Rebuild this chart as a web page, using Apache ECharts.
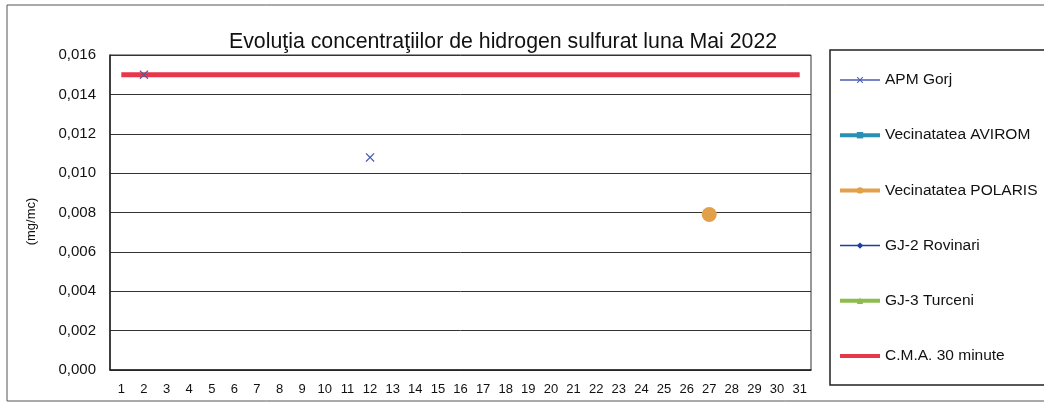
<!DOCTYPE html>
<html>
<head>
<meta charset="utf-8">
<script src="https://cdn.jsdelivr.net/npm/echarts@6/dist/echarts.min.js"></script>
<style>
  html, body { margin: 0; padding: 0; background: #fff; }
  #main { width: 1044px; height: 405px; }
</style>
</head>
<body>
<div id="main"></div>
<script>
// zilele lunii
const days = Array.from({ length: 31 }, (_, i) => String(i + 1));

// valori (mg/mc), null = lipsa masuratori
const apmGorj = days.map(() => null);
apmGorj[1] = 0.015;
apmGorj[11] = 0.0108;

const avirom = days.map(() => null);

const polaris = days.map(() => null);
polaris[26] = 0.0079;

const gj2Rovinari = days.map(() => null);
const gj3Turceni = days.map(() => null);

const cmaLimit = days.map(() => 0.015);

const chartDom = document.getElementById('main');
const myChart = echarts.init(chartDom, null, { renderer: 'canvas' });

const font = 'Liberation Sans, Arial, sans-serif';
const xMark = 'path://M0,1L1,0L5,4L9,0L10,1L6,5L10,9L9,10L5,6L1,10L0,9L4,5Z';

const colors = {
  apm: '#4a5cb0',
  avirom: '#2a8fb5',
  polaris: '#e3a04a',
  gj2: '#1f3ea0',
  gj3: '#8cbc4c',
  cma: '#e8364a'
};

const option = {
  animation: false,
  textStyle: { fontFamily: font },
  title: {
    text: 'Evoluţia concentraţiilor de hidrogen sulfurat luna Mai 2022',
    left: 224,
    top: 27,
    textStyle: { fontSize: 21.3, fontWeight: 'normal', color: '#111', fontFamily: font }
  },
  graphic: [
    {
      type: 'rect',
      shape: { x: 7, y: 5, width: 1044, height: 396 },
      style: { fill: 'none', stroke: '#555', lineWidth: 1 },
      silent: true
    },
    {
      type: 'rect',
      shape: { x: 830, y: 50, width: 220, height: 335 },
      style: { fill: 'none', stroke: '#222', lineWidth: 1.5 },
      silent: true
    }
  ],
  legend: {
    data: [
      { name: 'APM Gorj', lineStyle: { width: 1.5 } },
      { name: 'Vecinatatea AVIROM', lineStyle: { width: 4 } },
      { name: 'Vecinatatea POLARIS', lineStyle: { width: 4 } },
      { name: 'GJ-2 Rovinari', lineStyle: { width: 1.5 } },
      { name: 'GJ-3 Turceni', lineStyle: { width: 4 } },
      { name: 'C.M.A. 30 minute', icon: 'path://M0,0H40V4H0Z' }
    ],
    orient: 'vertical',
    left: 838,
    top: 72,
    padding: 0,
    itemWidth: 40,
    itemHeight: 8,
    itemGap: 39.2,
    textStyle: { fontSize: 15.5, color: '#111', fontFamily: font }
  },
  grid: {
    left: 110,
    right: 233,
    top: 55,
    bottom: 35,
    show: true,
    borderColor: '#333',
    borderWidth: 1
  },
  xAxis: {
    type: 'category',
    data: days,
    boundaryGap: true,
    axisLine: { lineStyle: { color: '#222', width: 1.5 } },
    axisTick: { show: false },
    axisLabel: { fontSize: 13, color: '#111', margin: 13, interval: 0 }
  },
  yAxis: {
    type: 'value',
    min: 0,
    max: 0.016,
    interval: 0.002,
    name: '(mg/mc)',
    nameLocation: 'middle',
    nameGap: 72,
    nameRotate: 90,
    nameTextStyle: { fontSize: 13, color: '#111', padding: [0, 0, 0, -18] },
    axisLine: { show: true, lineStyle: { color: '#222', width: 1.5 } },
    axisTick: { show: false },
    axisLabel: {
      fontSize: 15,
      color: '#111',
      margin: 14,
      formatter: v => v.toFixed(3).replace('.', ',')
    },
    splitLine: { lineStyle: { color: '#333', width: 1 } }
  },
  series: [
    {
      name: 'APM Gorj',
      type: 'line',
      data: apmGorj,
      z: 5,
      symbol: xMark,
      symbolSize: 9,
      showAllSymbol: true,
      lineStyle: { width: 1.5, color: colors.apm },
      itemStyle: { color: colors.apm }
    },
    {
      name: 'Vecinatatea AVIROM',
      type: 'line',
      data: avirom,
      symbol: 'rect',
      symbolSize: 8,
      lineStyle: { width: 4, color: colors.avirom },
      itemStyle: { color: colors.avirom }
    },
    {
      name: 'Vecinatatea POLARIS',
      type: 'line',
      data: polaris,
      z: 4,
      symbol: 'circle',
      symbolSize: 15,
      showAllSymbol: true,
      lineStyle: { width: 4, color: colors.polaris },
      itemStyle: { color: colors.polaris }
    },
    {
      name: 'GJ-2 Rovinari',
      type: 'line',
      data: gj2Rovinari,
      symbol: 'diamond',
      symbolSize: 9,
      lineStyle: { width: 1.5, color: colors.gj2 },
      itemStyle: { color: colors.gj2 }
    },
    {
      name: 'GJ-3 Turceni',
      type: 'line',
      data: gj3Turceni,
      symbol: 'triangle',
      symbolSize: 9,
      lineStyle: { width: 4, color: colors.gj3 },
      itemStyle: { color: colors.gj3 }
    },
    {
      name: 'C.M.A. 30 minute',
      type: 'line',
      data: cmaLimit,
      z: 3,
      symbol: 'none',
      lineStyle: { width: 5, color: colors.cma },
      itemStyle: { color: colors.cma }
    }
  ]
};

myChart.setOption(option);
</script>
</body>
</html>
